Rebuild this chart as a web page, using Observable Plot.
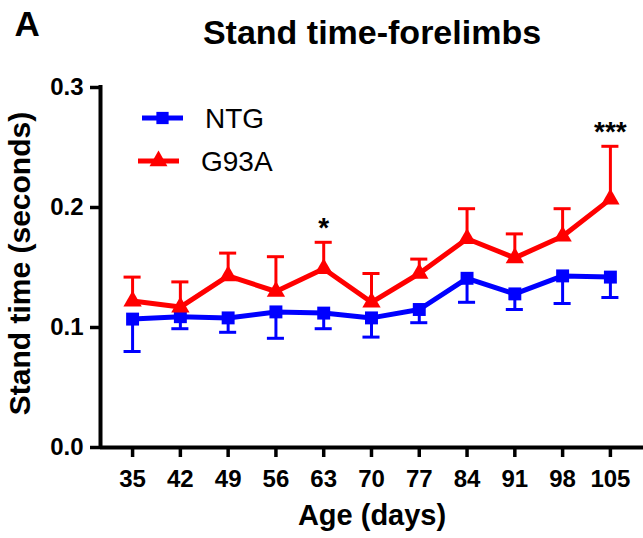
<!DOCTYPE html>
<html>
<head>
<meta charset="utf-8">
<script src="https://cdn.jsdelivr.net/npm/d3@7"></script>
<script src="https://cdn.jsdelivr.net/npm/@observablehq/plot@0.6"></script>
<style>
  html, body { margin: 0; padding: 0; background: #fff; }
  #chart svg { display: block; }
</style>
</head>
<body>
<div id="chart"></div>
<script>
// ---- data ----
const days = [35, 42, 49, 56, 63, 70, 77, 84, 91, 98, 105];
const ntgMean = [0.107, 0.109, 0.108, 0.113, 0.112, 0.108, 0.115, 0.141, 0.128, 0.143, 0.142];
const ntgSem  = [0.027, 0.010, 0.012, 0.022, 0.013, 0.016, 0.011, 0.020, 0.013, 0.023, 0.017];
const g93aMean = [0.122, 0.117, 0.143, 0.130, 0.149, 0.121, 0.145, 0.174, 0.158, 0.176, 0.207];
const g93aSem  = [0.020, 0.021, 0.019, 0.029, 0.022, 0.024, 0.012, 0.025, 0.020, 0.023, 0.044];
const yTicks = [0, 0.1, 0.2, 0.3];
const sigDays = [63, 105];
const sigLabels = ["*", "***"];
const seriesNames = ["NTG", "G93A"];
const title = "Stand time-forelimbs";
const panelLabel = "A";
const xLabel = "Age (days)";
const yLabel = "Stand time (seconds)";

// ---- tables built from the arrays ----
const ntg = days.map((d, i) => ({day: d, mean: ntgMean[i], lo: ntgMean[i] - ntgSem[i]}));
const g93a = days.map((d, i) => ({day: d, mean: g93aMean[i], hi: g93aMean[i] + g93aSem[i]}));
const sig = sigDays.map((d, i) => {
  const k = days.indexOf(d);
  return {day: d, label: sigLabels[i], y: g93aMean[k] + g93aSem[k]};
});

const BLUE = "#0000ff", RED = "#ff0000";
const FONT = "'Liberation Sans', Arial, Helvetica, sans-serif";
const xDomain = [30.3, 109.85];
const capHalf = 1.25; // cap half-width in days

const chart = Plot.plot({
  width: 643,
  height: 538,
  marginLeft: 100,
  marginRight: 0,
  marginTop: 87,
  marginBottom: 91,
  style: {fontFamily: FONT, fontWeight: "bold", fontSize: "24px", color: "#000", background: "#fff", overflow: "visible"},
  x: {domain: xDomain},
  y: {domain: [0, 0.3]},
  marks: [
    Plot.axisX({ticks: days, tickSize: 10, tickPadding: 12, strokeWidth: 3.5, fontSize: 24, fontWeight: "bold", label: null, tickFormat: d => String(d)}),
    Plot.axisY({ticks: yTicks, tickSize: 10, tickPadding: 7, strokeWidth: 3.5, fontSize: 24, fontWeight: "bold", label: null, tickFormat: d3.format(".1f")}),
    Plot.ruleY([0], {stroke: "#000", strokeWidth: 4}),
    Plot.ruleX([xDomain[0]], {stroke: "#000", strokeWidth: 4, strokeLinecap: "square"}),
    // error bars
    Plot.ruleX(ntg, {x: "day", y1: "mean", y2: "lo", stroke: BLUE, strokeWidth: 3}),
    Plot.ruleY(ntg, {y: "lo", x1: d => d.day - capHalf, x2: d => d.day + capHalf, stroke: BLUE, strokeWidth: 3}),
    Plot.ruleX(g93a, {x: "day", y1: "mean", y2: "hi", stroke: RED, strokeWidth: 3}),
    Plot.ruleY(g93a, {y: "hi", x1: d => d.day - capHalf, x2: d => d.day + capHalf, stroke: RED, strokeWidth: 3}),
    // lines and markers
    Plot.line(ntg, {x: "day", y: "mean", stroke: BLUE, strokeWidth: 5}),
    Plot.dot(ntg, {x: "day", y: "mean", symbol: "square", r: 7.3, fill: BLUE, stroke: "none"}),
    Plot.line(g93a, {x: "day", y: "mean", stroke: RED, strokeWidth: 5}),
    Plot.dot(g93a, {x: "day", y: "mean", symbol: "triangle", r: 6.8, fill: RED, stroke: "none"}),
    // significance
    Plot.text(sig, {x: "day", y: "y", text: "label", dy: -14, fontSize: 28, fontWeight: "bold", fill: "#000"}),
    // titles
    Plot.text([title], {frameAnchor: "top", dy: -44, lineAnchor: "bottom", fontSize: 34, fontWeight: "bold", fill: "#000"}),
    Plot.text([panelLabel], {frameAnchor: "top-left", textAnchor: "start", dx: -86, dy: -52, lineAnchor: "bottom", fontSize: 35, fontWeight: "bold", fill: "#000"}),
    Plot.text([xLabel], {frameAnchor: "bottom", dy: 77, lineAnchor: "bottom", fontSize: 29, fontWeight: "bold", fill: "#000"}),
    Plot.text([yLabel], {frameAnchor: "left", textAnchor: "middle", dx: -80, dy: -4, rotate: -90, lineAnchor: "middle", fontSize: 30, fontWeight: "bold", fill: "#000"})
  ]
});

// legend
const svg = d3.select(chart);
const leg = svg.append("g").attr("font-family", FONT).attr("font-weight", "normal").attr("font-size", 28).attr("text-anchor", "start");
const legendRows = [
  {name: seriesNames[0], color: BLUE, x1: 142, x2: 183, y: 118, sym: d3.symbolSquare, size: 150, tx: 205},
  {name: seriesNames[1], color: RED, x1: 138, x2: 179, y: 161, sym: d3.symbolTriangle, size: 140, tx: 201}
];
legendRows.forEach(r => {
  leg.append("line").attr("x1", r.x1).attr("x2", r.x2).attr("y1", r.y).attr("y2", r.y)
    .attr("stroke", r.color).attr("stroke-width", 5);
  leg.append("path").attr("d", d3.symbol(r.sym, r.size)())
    .attr("transform", `translate(${(r.x1 + r.x2) / 2},${r.y})`).attr("fill", r.color);
  leg.append("text").attr("x", r.tx).attr("y", r.y).attr("dy", "0.36em").attr("fill", "#000").attr("text-anchor", "start").text(r.name);
});

document.getElementById("chart").appendChild(chart);
</script>
</body>
</html>
